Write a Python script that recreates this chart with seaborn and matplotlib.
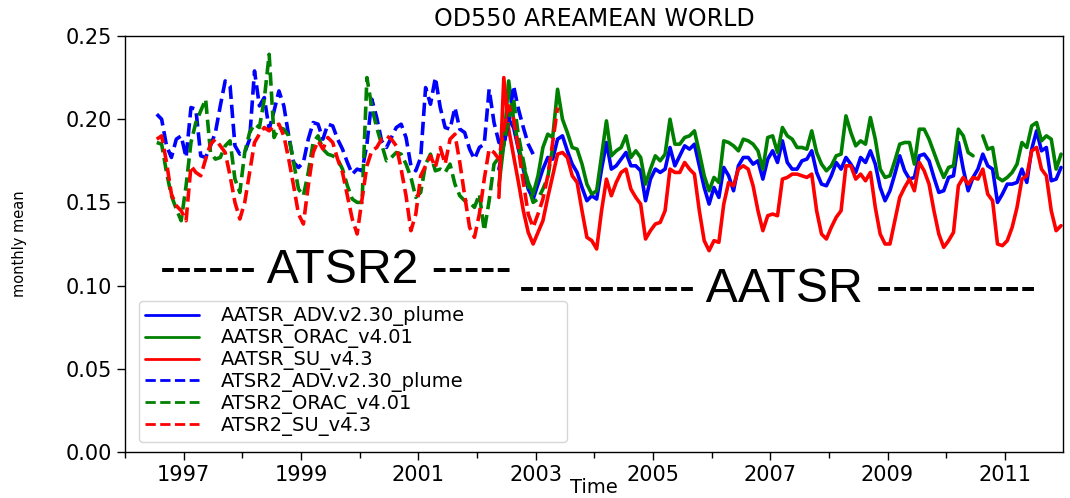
import numpy as np
import pandas as pd
import matplotlib
matplotlib.use("Agg")
import matplotlib.pyplot as plt
from matplotlib.lines import Line2D
from matplotlib.ticker import FixedLocator, FormatStrFormatter
import seaborn as sns

nan = np.nan

# ---- monthly area-mean AOD at 550 nm -------------------------------------
# AATSR records start May 2002, ATSR2 records start July 1996
aatsr_start = (2002, 5)
atsr2_start = (1996, 7)

aatsr_adv = [
    0.170, 0.185, 0.200, 0.195, 0.182, 0.170, 0.158, 0.152,
    0.161, 0.170, 0.177, 0.176, 0.188, 0.190, 0.181, 0.173, 0.168, 0.159, 0.151, 0.154,
    0.152, 0.170, 0.186, 0.170, 0.172, 0.176, 0.180, 0.172, 0.172, 0.169, 0.151, 0.164,
    0.170, 0.168, 0.170, 0.183, 0.172, 0.178, 0.184, 0.182, 0.185, 0.172, 0.159, 0.149,
    0.159, 0.153, 0.171, 0.166, 0.157, 0.172, 0.177, 0.177, 0.173, 0.175, 0.164, 0.176,
    0.181, 0.174, 0.187, 0.174, 0.170, 0.170, 0.175, 0.176, 0.181, 0.168, 0.161, 0.160,
    0.166, 0.174, 0.170, 0.177, 0.173, 0.168, 0.177, 0.174, 0.181, 0.173, 0.159, 0.151,
    0.157, 0.167, 0.178, 0.169, 0.164, 0.165, 0.178, 0.179, 0.175, 0.165, 0.156, 0.157,
    0.165, 0.166, 0.186, 0.170, 0.157, 0.165, 0.170, 0.179, 0.172, 0.170, 0.150, 0.155,
    0.161, 0.161, 0.162, 0.170, 0.162, 0.182, 0.193, 0.181, 0.183, 0.163, 0.164, 0.171,
]
aatsr_orac = [
    0.160, 0.185, 0.223, 0.200, 0.184, 0.172, 0.162, 0.155,
    0.166, 0.183, 0.191, 0.189, 0.218, 0.200, 0.192, 0.183, 0.182, 0.173, 0.161, 0.155,
    0.157, 0.178, 0.199, 0.178, 0.181, 0.183, 0.190, 0.177, 0.181, 0.177, 0.161, 0.170,
    0.178, 0.175, 0.179, 0.200, 0.185, 0.185, 0.189, 0.190, 0.193, 0.180, 0.166, 0.157,
    0.165, 0.162, 0.187, 0.186, 0.184, 0.181, 0.188, 0.187, 0.185, 0.181, 0.170, 0.189,
    0.190, 0.180, 0.195, 0.190, 0.188, 0.183, 0.183, 0.182, 0.193, 0.180, 0.173, 0.169,
    0.172, 0.178, 0.179, 0.202, 0.192, 0.184, 0.187, 0.185, 0.201, 0.188, 0.170, 0.165,
    0.166, 0.175, 0.185, 0.186, 0.186, 0.173, 0.194, 0.194, 0.188, 0.180, 0.172, 0.165,
    0.171, 0.172, 0.194, 0.190, 0.180, 0.178, nan, 0.190, 0.182, 0.183, 0.165, 0.163,
    0.165, 0.168, 0.173, 0.186, 0.183, 0.196, 0.198, 0.187, 0.190, 0.188, 0.170, 0.179,
]
aatsr_su = [
    0.153, 0.225, 0.194, 0.178, 0.162, 0.145, 0.132, 0.125,
    0.132, 0.139, 0.153, 0.166, 0.179, 0.180, 0.177, 0.166, 0.162, 0.145, 0.129, 0.127,
    0.122, 0.145, 0.164, 0.154, 0.162, 0.168, 0.170, 0.158, 0.153, 0.149, 0.128, 0.133,
    0.137, 0.138, 0.145, 0.170, 0.168, 0.168, 0.174, 0.170, 0.167, 0.145, 0.127, 0.121,
    0.127, 0.126, 0.149, 0.162, 0.160, 0.170, 0.172, 0.170, 0.160, 0.145, 0.133, 0.142,
    0.143, 0.142, 0.164, 0.165, 0.167, 0.167, 0.166, 0.165, 0.167, 0.145, 0.131, 0.128,
    0.135, 0.141, 0.145, 0.172, 0.172, 0.164, 0.167, 0.163, 0.168, 0.147, 0.131, 0.125,
    0.125, 0.139, 0.153, 0.159, 0.164, 0.157, 0.174, 0.169, 0.161, 0.145, 0.131, 0.123,
    0.127, 0.132, 0.160, 0.165, 0.161, 0.165, 0.164, 0.170, 0.155, 0.151, 0.125, 0.124,
    0.127, 0.135, 0.147, 0.164, 0.166, 0.181, 0.183, 0.170, 0.166, 0.145, 0.133, 0.136,
]
atsr2_adv = [
    0.203, 0.200, 0.184, 0.177, 0.188, 0.190,
    0.177, 0.207, 0.206, 0.178, 0.177, 0.184, 0.192, 0.208, 0.223, 0.220, 0.184, 0.179,
    0.180, 0.188, 0.229, 0.208, 0.213, 0.194, 0.205, 0.217, 0.208, 0.190, 0.174, 0.171,
    0.174, 0.188, 0.198, 0.197, 0.188, 0.197, 0.196, 0.188, 0.182, 0.174, 0.167, 0.170,
    0.169, 0.185, 0.212, 0.201, 0.187, 0.183, 0.189, 0.195, 0.197, 0.189, 0.172, 0.169,
    0.177, 0.219, 0.209, 0.225, 0.207, 0.195, 0.194, 0.207, 0.194, 0.192, 0.182, 0.176,
    0.183, 0.185, 0.218, 0.198, 0.186, 0.185, 0.198, 0.220, 0.206, 0.195, 0.185, 0.179,
    nan, nan, nan, nan, nan,
]
atsr2_orac = [
    0.186, 0.185, 0.168, 0.154, 0.146, 0.139,
    0.160, 0.186, 0.198, 0.205, 0.212, 0.180, 0.176, 0.177, 0.184, 0.187, 0.164, 0.156,
    0.180, 0.192, 0.197, 0.195, 0.212, 0.239, 0.189, 0.195, 0.194, 0.190, 0.174, 0.158,
    0.154, 0.168, 0.186, 0.190, 0.182, 0.179, 0.178, 0.176, 0.170, 0.160, 0.152, 0.150,
    0.150, 0.225, 0.207, 0.195, 0.185, 0.175, 0.177, 0.180, 0.179, 0.173, 0.165, 0.153,
    0.156, 0.173, 0.179, 0.169, 0.170, 0.168, 0.173, 0.161, 0.154, 0.151, 0.150, 0.147,
    0.155, 0.133, 0.151, 0.173, 0.177, 0.185, 0.200, 0.212, 0.190, 0.175, 0.160, 0.150,
    0.152, 0.158, 0.165, 0.183, nan,
]
atsr2_su = [
    0.188, 0.190, 0.174, 0.155, 0.148, 0.145,
    0.139, 0.172, 0.168, 0.166, 0.176, 0.185, 0.188, 0.184, 0.180, 0.166, 0.150, 0.140,
    0.150, 0.168, 0.186, 0.191, 0.195, 0.193, 0.196, 0.197, 0.190, 0.176, 0.160, 0.143,
    0.137, 0.160, 0.180, 0.187, 0.182, 0.189, 0.186, 0.176, 0.168, 0.154, 0.140, 0.131,
    0.152, 0.172, 0.181, 0.183, 0.188, 0.190, 0.188, 0.184, 0.170, 0.154, 0.133, 0.143,
    0.166, 0.172, 0.178, 0.171, 0.183, 0.173, 0.188, 0.191, 0.174, 0.154, 0.135, 0.129,
    0.143, 0.164, 0.182, 0.180, 0.176, 0.194, 0.208, 0.200, 0.182, 0.162, 0.143, 0.135,
    0.143, 0.152, 0.166, 0.186, 0.207,
]

series_names = [
    "AATSR_ADV.v2.30_plume", "AATSR_ORAC_v4.01", "AATSR_SU_v4.3",
    "ATSR2_ADV.v2.30_plume", "ATSR2_ORAC_v4.01", "ATSR2_SU_v4.3",
]
x_tick_years = [1997, 1999, 2001, 2003, 2005, 2007, 2009, 2011]
y_ticks = [0.00, 0.05, 0.10, 0.15, 0.20, 0.25]


def decimal_months(start, n):
    """Mid-month decimal-year positions for n consecutive months."""
    year, month = start
    return year + (month - 1 + 0.5 + np.arange(n)) / 12.0


def as_frame(start, values):
    v = np.asarray(values, dtype=float)
    frame = pd.DataFrame({
        "time": decimal_months(start, len(v)),
        "aod": v,
        "segment": np.cumsum(np.isnan(v)),  # missing months break the line
    })
    return frame.dropna()


records = [
    (series_names[0], aatsr_start, aatsr_adv, "blue", "-"),
    (series_names[1], aatsr_start, aatsr_orac, "green", "-"),
    (series_names[2], aatsr_start, aatsr_su, "red", "-"),
    (series_names[3], atsr2_start, atsr2_adv, "blue", "--"),
    (series_names[4], atsr2_start, atsr2_orac, "green", "--"),
    (series_names[5], atsr2_start, atsr2_su, "red", "--"),
]

sns.set_style("ticks")
plt.rcParams.update({
    "font.family": ["DejaVu Sans"],
    "text.color": "black",
    "axes.labelcolor": "black",
    "axes.edgecolor": "black",
    "xtick.color": "black",
    "ytick.color": "black",
    "xtick.direction": "out",
    "ytick.direction": "out",
})

fig = plt.figure(figsize=(10.70, 4.98), dpi=100)
ax = fig.add_axes([0.1168, 0.0924, 0.8771, 0.8353])

handles = []
for name, start, values, color, ls in records:
    df = as_frame(start, values)
    sns.lineplot(data=df, x="time", y="aod", units="segment", estimator=None,
                 color=color, linestyle=ls, linewidth=2.6, ax=ax, legend=False)
    handles.append(Line2D([], [], color=color, linestyle=ls, linewidth=2.0))

ax.set_xlim(1996.0, 2012.0)
ax.set_ylim(0.0, 0.25)
ax.xaxis.set_major_locator(FixedLocator(x_tick_years))
ax.xaxis.set_minor_locator(FixedLocator([y + 1 for y in x_tick_years[:-1]] + [1996]))
ax.set_xticklabels([str(y) for y in x_tick_years])
ax.yaxis.set_major_locator(FixedLocator(y_ticks))
ax.yaxis.set_major_formatter(FormatStrFormatter("%.2f"))
ax.tick_params(axis="both", which="major", labelsize=15, length=6, width=1.0)
ax.tick_params(axis="x", which="minor", length=4, width=1.0)
for side in ("top", "right", "left", "bottom"):
    ax.spines[side].set_visible(True)
    ax.spines[side].set_linewidth(1.0)

ax.set_title("OD550 AREAMEAN WORLD", fontsize=17, pad=7)
ax.set_xlabel("Time", fontsize=14)
ax.set_ylabel("monthly mean", fontsize=10.5)
ax.yaxis.set_label_coords(-0.104, 0.5)
ax.xaxis.set_label_coords(0.5, -0.062)

# sensor era labels
ax.text(1996.59, 0.1016, "------ ATSR2 -----", fontsize=34.7,
        family=["Liberation Sans", "DejaVu Sans"], va="baseline", ha="left")
ax.text(2002.71, 0.0901, "----------- AATSR ----------", fontsize=34.7,
        family=["Liberation Sans", "DejaVu Sans"], va="baseline", ha="left")

ax.legend(handles, series_names, loc="lower left",
          bbox_to_anchor=(0.015, 0.024, 0.456, 0.353), mode="expand",
          borderaxespad=0.0, fontsize=14, labelspacing=0.1, borderpad=0.3,
          handlelength=2.8, handletextpad=1.1, frameon=True, fancybox=True,
          framealpha=0.8, edgecolor="0.8")

fig.savefig("out.png", dpi=100)
